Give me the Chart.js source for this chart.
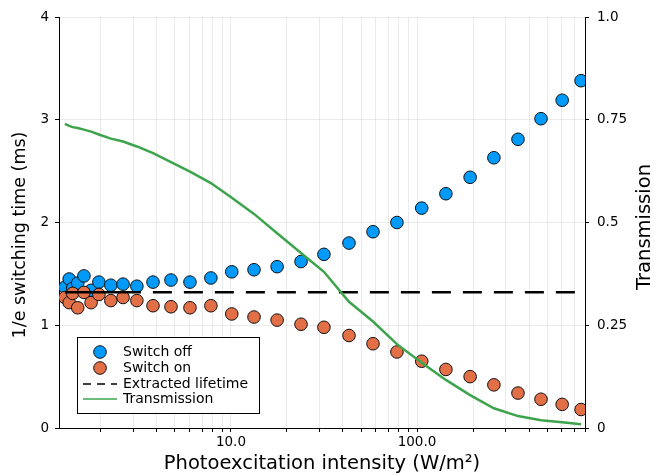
<!DOCTYPE html>
<html>
<head>
<meta charset="utf-8">
<script src="https://cdn.jsdelivr.net/npm/chart.js@4.4.1/dist/chart.umd.min.js"></script>
<style>
  html, body { margin: 0; padding: 0; background: #fff; }
  #wrap { width: 654px; height: 475px; }
</style>
</head>
<body>
<div id="wrap"><canvas id="grafico" width="654" height="475"></canvas></div>
<script>
// Datos
const intensidad = [1.28, 1.35, 1.41, 1.50, 1.62, 1.77, 1.95, 2.26, 2.63, 3.12,
                    3.81, 4.76, 6.02, 7.80, 10.1, 13.3, 17.7, 23.8, 31.6, 43.1,
                    58.0, 78.0, 106, 143, 193, 259, 349, 464, 603, 762];
const switchOff = [1.37, 1.45, 1.36, 1.41, 1.48, 1.34, 1.42, 1.39, 1.40, 1.38,
                   1.42, 1.44, 1.42, 1.46, 1.52, 1.54, 1.57, 1.62, 1.69, 1.80,
                   1.91, 2.00, 2.14, 2.28, 2.44, 2.63, 2.81, 3.01, 3.19, 3.38];
const switchOn = [1.27, 1.22, 1.31, 1.17, 1.32, 1.22, 1.30, 1.24, 1.27, 1.24,
                  1.19, 1.18, 1.17, 1.19, 1.11, 1.08, 1.05, 1.01, 0.98, 0.90,
                  0.82, 0.74, 0.65, 0.57, 0.50, 0.42, 0.34, 0.28, 0.23, 0.18];
const transmision = [0.740, 0.735, 0.732, 0.730, 0.726, 0.721, 0.714, 0.704, 0.697, 0.685,
                     0.669, 0.647, 0.624, 0.596, 0.560, 0.521, 0.474, 0.426, 0.380, 0.307,
                     0.259, 0.204, 0.159, 0.117, 0.080, 0.048, 0.029, 0.019, 0.014, 0.009];
const tiempoVida = 1.32;

// Ticks de los ejes
const xTicks = [2, 3, 4, 5, 6, 7, 8, 9, 10, 20, 30, 40, 50, 60, 70, 80, 90,
                100, 200, 300, 400, 500, 600, 700, 800];
const xEtiquetaValores = [10, 100];
const xEtiquetaTextos = ['10.0', '100.0'];
const yTicks = [0, 1, 2, 3, 4];
const y2Ticks = [0, 0.25, 0.5, 0.75, 1.0];
const y2Textos = ['0', '0.25', '0.5', '0.75', '1.0'];

const azul = '#009afa';
const naranja = '#e36f47';
const verde = '#3da44d';
const rejilla = 'rgba(0,0,0,0.08)';

Chart.defaults.font.family = "'DejaVu Sans', sans-serif";
Chart.defaults.color = '#000';

const puntos = (ys) => intensidad.map((x, i) => ({ x: x, y: ys[i] }));

// Leyenda dentro del área del gráfico y títulos de los ejes verticales
const leyendaPlugin = {
  id: 'leyenda',
  afterDraw(chart) {
    const ctx = chart.ctx;
    const area = chart.chartArea;
    const x0 = area.left + 18;
    const y0 = area.bottom - 91;
    const w = 182, h = 76;
    ctx.save();
    ctx.fillStyle = '#fff';
    ctx.fillRect(x0, y0, w, h);
    ctx.strokeStyle = '#000';
    ctx.lineWidth = 1;
    ctx.strokeRect(x0 + 0.5, y0 + 0.5, w, h);

    const filas = [y0 + 15, y0 + 31, y0 + 47, y0 + 62];
    // marcadores
    [[azul, filas[0]], [naranja, filas[1]]].forEach(([c, y]) => {
      ctx.beginPath();
      ctx.arc(x0 + 23, y, 6.3, 0, Math.PI * 2);
      ctx.fillStyle = c;
      ctx.fill();
      ctx.strokeStyle = '#111';
      ctx.lineWidth = 1;
      ctx.stroke();
    });
    // linea discontinua
    ctx.beginPath();
    ctx.setLineDash([8, 6]);
    ctx.strokeStyle = '#000';
    ctx.lineWidth = 1.6;
    ctx.moveTo(x0 + 6, filas[2]);
    ctx.lineTo(x0 + 40, filas[2]);
    ctx.stroke();
    ctx.setLineDash([]);
    // linea verde
    ctx.beginPath();
    ctx.strokeStyle = verde;
    ctx.lineWidth = 1.6;
    ctx.moveTo(x0 + 6, filas[3]);
    ctx.lineTo(x0 + 40, filas[3]);
    ctx.stroke();

    ctx.fillStyle = '#000';
    ctx.font = "14px 'DejaVu Sans', sans-serif";
    ctx.textBaseline = 'middle';
    ctx.textAlign = 'left';
    const textos = ['Switch off', 'Switch on', 'Extracted lifetime', 'Transmission'];
    textos.forEach((t, i) => ctx.fillText(t, x0 + 46, filas[i]));

    // títulos de los ejes verticales, leídos de abajo hacia arriba
    ctx.textAlign = 'center';
    ctx.save();
    ctx.translate(20, 235);
    ctx.rotate(-Math.PI / 2);
    ctx.font = "17.5px 'DejaVu Sans', sans-serif";
    ctx.fillText('1/e switching time (ms)', 0, 0);
    ctx.restore();

    ctx.translate(645, 227);
    ctx.rotate(-Math.PI / 2);
    ctx.font = "19.5px 'DejaVu Sans', sans-serif";
    ctx.fillText('Transmission', 0, 0);
    ctx.restore();
  }
};

const ctxGrafico = document.getElementById('grafico').getContext('2d');
new Chart(ctxGrafico, {
  type: 'scatter',
  data: {
    datasets: [
      {
        label: 'Switch off',
        data: puntos(switchOff),
        yAxisID: 'y',
        backgroundColor: azul,
        borderColor: '#111',
        borderWidth: 1,
        pointRadius: 6.3,
        order: 4
      },
      {
        label: 'Switch on',
        data: puntos(switchOn),
        yAxisID: 'y',
        backgroundColor: naranja,
        borderColor: '#111',
        borderWidth: 1,
        pointRadius: 6.3,
        order: 3
      },
      {
        label: 'Extracted lifetime',
        data: intensidad.map(x => ({ x: x, y: tiempoVida })),
        yAxisID: 'y',
        showLine: true,
        borderColor: '#000',
        borderWidth: 2.5,
        pointRadius: 0,
        borderDash: [],
        segment: {
          borderDash: c => (c.p1.x - c.p0.x < 15 ? undefined : [19, 12]),
          borderDashOffset: 15
        },
        order: 2
      },
      {
        label: 'Transmission',
        data: puntos(transmision),
        yAxisID: 'y2',
        showLine: true,
        borderColor: verde,
        borderWidth: 2.5,
        pointRadius: 0,
        order: 1
      }
    ]
  },
  options: {
    responsive: false,
    animation: false,
    devicePixelRatio: 1,
    layout: { padding: { top: 17, left: 0, right: 0, bottom: 0 } },
    plugins: {
      legend: { display: false },
      tooltip: { enabled: false }
    },
    scales: {
      x: {
        type: 'logarithmic',
        position: 'bottom',
        min: 1.19,
        max: 800,
        afterBuildTicks: s => { s.ticks = xTicks.map(v => ({ value: v })); },
        afterFit: s => { s.height = 47; },
        ticks: {
          autoSkip: false,
          maxRotation: 0,
          padding: 2,
          font: { size: 13.5 },
          callback: v => {
            const i = xEtiquetaValores.indexOf(v);
            return i >= 0 ? xEtiquetaTextos[i] : '';
          }
        },
        grid: { color: rejilla, tickColor: '#000', tickLength: 4 },
        border: { display: true, color: '#000', width: 1 },
        title: {
          display: true,
          text: 'Photoexcitation intensity (W/m²)',
          font: { size: 19.5, lineHeight: 1 },
          padding: { top: 0, bottom: 1 }
        }
      },
      y: {
        position: 'left',
        min: 0,
        max: 4,
        afterBuildTicks: s => { s.ticks = yTicks.map(v => ({ value: v })); },
        afterFit: s => { s.width = 59; },
        ticks: { padding: 6, font: { size: 13.5 } },
        grid: { color: rejilla, tickColor: '#000', tickLength: 4 },
        border: { display: true, color: '#000', width: 1 },
        title: { display: false }
      },
      y2: {
        position: 'right',
        min: 0,
        max: 1,
        afterBuildTicks: s => { s.ticks = y2Ticks.map(v => ({ value: v })); },
        afterFit: s => { s.width = 69; },
        ticks: {
          padding: 8,
          font: { size: 13.5 },
          callback: v => y2Textos[y2Ticks.indexOf(v)]
        },
        grid: { drawOnChartArea: false, tickColor: '#000', tickLength: 4 },
        border: { display: true, color: '#000', width: 1 },
        title: { display: false }
      }
    }
  },
  plugins: [leyendaPlugin]
});
</script>
</body>
</html>
